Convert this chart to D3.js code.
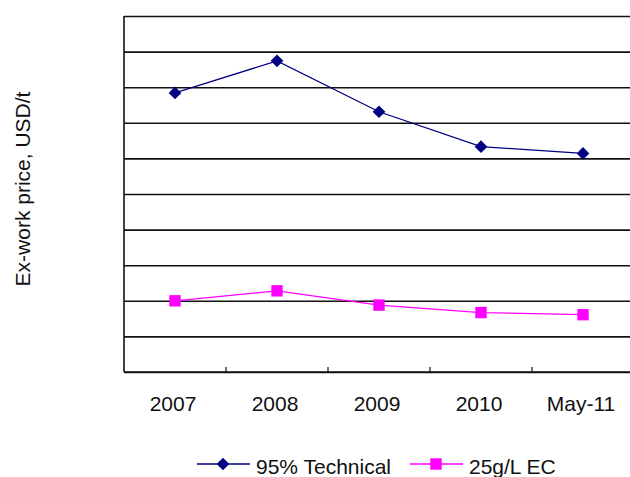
<!DOCTYPE html>
<html>
<head>
<meta charset="utf-8">
<script src="https://cdn.jsdelivr.net/npm/d3@7"></script>
<style>
  body { margin: 0; background: #fff; }
  svg { display: block; font-family: Arial, "Liberation Sans", sans-serif; }
</style>
</head>
<body>
<div id="chart"></div>
<script>
// data (no y labels shown; values in USD/t, estimated)
var categories = ['2007', '2008', '2009', '2010', 'May-11'];
var technical = [7840, 8740, 7310, 6330, 6140];
var ec = [2000, 2280, 1880, 1670, 1610];
var seriesNames = ['95% Technical', '25g/L EC'];

var size = { width: 630, height: 477 };
var plot = { left: 124, right: 634, top: 16, bottom: 372 };

var svg = d3.select('#chart').append('svg')
  .attr('width', size.width)
  .attr('height', size.height);

var x = d3.scaleBand().domain(categories).range([plot.left, plot.right]).padding(0);
var y = d3.scaleLinear().domain([0, 10000]).range([plot.bottom, plot.top]);

// horizontal gridlines
svg.append('g')
  .attr('transform', 'translate(' + plot.left + ',0)')
  .call(d3.axisLeft(y).ticks(10).tickSize(-(plot.right - plot.left)).tickFormat(''))
  .call(function(g){
    g.select('.domain').remove();
    g.selectAll('line').attr('stroke', '#111').attr('stroke-width', 1.6);
  });

// left axis line
svg.append('line')
  .attr('x1', plot.left).attr('x2', plot.left)
  .attr('y1', plot.top).attr('y2', plot.bottom)
  .attr('stroke', '#111').attr('stroke-width', 1.6);

// bottom axis + inward ticks at category boundaries
svg.append('line')
  .attr('x1', plot.left).attr('x2', plot.right)
  .attr('y1', plot.bottom).attr('y2', plot.bottom)
  .attr('stroke', '#111').attr('stroke-width', 1.6);

svg.selectAll('.xtick')
  .data(categories.slice(1))
  .enter().append('line')
  .attr('x1', function(d){ return x(d); })
  .attr('x2', function(d){ return x(d); })
  .attr('y1', plot.bottom).attr('y2', plot.bottom - 5)
  .attr('stroke', '#111').attr('stroke-width', 1.2);

svg.selectAll('.xlabel')
  .data(categories)
  .enter().append('text')
  .attr('x', function(d){ return x(d) + x.bandwidth() / 2 - 2; })
  .attr('y', 411)
  .attr('text-anchor', 'middle')
  .attr('font-size', '21px')
  .attr('fill', '#111')
  .text(function(d){ return d; });

// y axis title
svg.append('text')
  .attr('transform', 'translate(30,189) rotate(-90)')
  .attr('text-anchor', 'middle')
  .attr('font-size', '21px')
  .attr('fill', '#111')
  .text('Ex-work price, USD/t');

var line = d3.line()
  .x(function(d, i){ return x(categories[i]) + x.bandwidth() / 2; })
  .y(function(d){ return y(d); });

// diamond = square turned 45 degrees (d3's symbolDiamond is too narrow)
var diamond = d3.symbol().type(d3.symbolSquare).size(80);
var square = d3.symbol().type(d3.symbolSquare).size(130);

// 95% Technical
svg.append('path')
  .datum(technical)
  .attr('d', line)
  .attr('fill', 'none')
  .attr('stroke', '#000080')
  .attr('stroke-width', 1.3);

svg.selectAll('.tech')
  .data(technical)
  .enter().append('path')
  .attr('transform', function(d, i){
    return 'translate(' + (x(categories[i]) + x.bandwidth() / 2) + ',' + y(d) + ') rotate(45)';
  })
  .attr('d', diamond)
  .attr('fill', '#000080');

// 25g/L EC
svg.append('path')
  .datum(ec)
  .attr('d', line)
  .attr('fill', 'none')
  .attr('stroke', '#ff00ff')
  .attr('stroke-width', 1.3);

svg.selectAll('.ec')
  .data(ec)
  .enter().append('path')
  .attr('transform', function(d, i){
    return 'translate(' + (x(categories[i]) + x.bandwidth() / 2) + ',' + y(d) + ')';
  })
  .attr('d', square)
  .attr('fill', '#ff00ff');

// legend
var legend = [
  { name: seriesNames[0], color: '#000080', sym: diamond, rot: 45, x0: 197 },
  { name: seriesNames[1], color: '#ff00ff', sym: square, rot: 0, x0: 410 }
];
var lg = svg.selectAll('.legend')
  .data(legend)
  .enter().append('g')
  .attr('transform', function(d){ return 'translate(' + d.x0 + ',464)'; });

lg.append('line')
  .attr('x1', 0).attr('x2', 53)
  .attr('y1', 0).attr('y2', 0)
  .attr('stroke', function(d){ return d.color; })
  .attr('stroke-width', 1.3);

lg.append('path')
  .attr('transform', function(d){ return 'translate(26,0) rotate(' + d.rot + ')'; })
  .attr('d', function(d){ return d.sym(); })
  .attr('fill', function(d){ return d.color; });

lg.append('text')
  .attr('x', 59)
  .attr('y', 10)
  .attr('font-size', '21px')
  .attr('fill', '#111')
  .text(function(d){ return d.name; });
</script>
</body>
</html>
